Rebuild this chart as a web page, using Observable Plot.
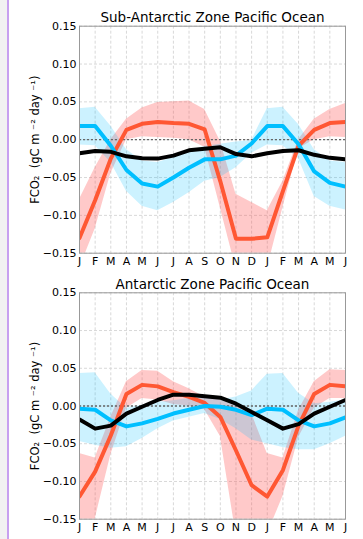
<!DOCTYPE html>
<html><head><meta charset="utf-8">
<script src="https://cdn.jsdelivr.net/npm/d3@7"></script>
<script src="https://cdn.jsdelivr.net/npm/@observablehq/plot@0.6"></script>
<style>
html,body{margin:0;padding:0;background:#f2f2f2;width:363px;height:539px;overflow:hidden;}
#page{position:absolute;left:7px;top:0;width:354px;height:539px;background:#fff;border-left:2px solid #c8a0f0;}
.panel{position:absolute;left:0;}
svg text{font-family:"DejaVu Sans",sans-serif;}
</style></head><body>
<div id="page"></div>
<div id="p1" class="panel" style="top:0px"></div>
<div id="p2" class="panel" style="top:270px"></div>
<script>
const months = ["J","F","M","A","M","J","J","A","S","O","N","D","J","F","M","A","M","J"];
const yTicks = [-0.15,-0.10,-0.05,0.00,0.05,0.10,0.15];
const yLabel = "FCO\u2082  (gC m \u207B\u00B2 day \u207B\u00B9)";

// Sub-Antarctic Zone Pacific Ocean
const sazTitle = "Sub-Antarctic Zone Pacific Ocean";
const sazRed   = [-0.130,-0.080,-0.025,0.013,0.021,0.0235,0.022,0.021,0.0135,-0.055,-0.131,-0.131,-0.129,-0.068,-0.008,0.013,0.022,0.0235];
const sazRedHi = [-0.079,-0.037,0.000,0.027,0.042,0.049,0.050,0.051,0.040,-0.002,-0.072,-0.083,-0.094,-0.055,0.000,0.027,0.040,0.048];
const sazRedLo = [-0.170,-0.118,-0.045,0.000,0.004,0.003,0.002,0.000,-0.010,-0.090,-0.170,-0.170,-0.170,-0.090,-0.012,0.000,0.004,0.003];
const sazBlue   = [0.018,0.018,-0.008,-0.040,-0.058,-0.062,-0.050,-0.037,-0.026,-0.026,-0.021,-0.005,0.018,0.018,-0.006,-0.042,-0.057,-0.062];
const sazBlueHi = [0.041,0.043,0.018,-0.013,-0.028,-0.030,-0.024,-0.015,-0.009,-0.006,-0.003,-0.001,0.041,0.043,0.020,-0.013,-0.028,-0.030];
const sazBlueLo = [-0.007,-0.008,-0.030,-0.068,-0.088,-0.094,-0.083,-0.070,-0.055,-0.050,-0.037,-0.018,-0.007,-0.008,-0.025,-0.075,-0.088,-0.093];
const sazBlack  = [-0.018,-0.015,-0.016,-0.022,-0.0245,-0.025,-0.021,-0.014,-0.012,-0.010,-0.019,-0.022,-0.018,-0.015,-0.014,-0.020,-0.024,-0.026];

// Antarctic Zone Pacific Ocean
const azTitle = "Antarctic Zone Pacific Ocean";
const azRed   = [-0.120,-0.087,-0.039,0.016,0.028,0.026,0.0185,0.012,0.004,-0.0145,-0.059,-0.105,-0.120,-0.085,-0.026,0.016,0.028,0.026];
const azRedHi = [-0.063,-0.069,-0.015,0.032,0.047,0.046,0.032,0.023,0.012,0.008,0.000,-0.010,-0.063,-0.069,-0.006,0.032,0.048,0.047];
const azRedLo = [-0.170,-0.150,-0.065,-0.003,0.010,0.008,0.002,0.000,-0.005,-0.040,-0.170,-0.170,-0.170,-0.120,-0.042,-0.003,0.010,0.010];
const azBlue   = [-0.0035,-0.005,-0.019,-0.027,-0.023,-0.017,-0.010,-0.005,0.000,-0.001,-0.005,-0.012,-0.0035,-0.005,-0.019,-0.027,-0.023,-0.015];
const azBlueHi = [0.043,0.044,0.016,-0.003,0.001,0.005,0.007,0.010,0.012,0.008,0.012,0.020,0.042,0.043,0.017,0.003,0.005,0.008];
const azBlueLo = [-0.047,-0.052,-0.056,-0.054,-0.043,-0.030,-0.020,-0.015,-0.010,-0.018,-0.030,-0.045,-0.050,-0.055,-0.058,-0.058,-0.050,-0.040];
const azBlack  = [-0.018,-0.030,-0.026,-0.010,-0.001,0.008,0.015,0.015,0.013,0.011,0.003,-0.008,-0.019,-0.030,-0.024,-0.010,-0.001,0.008];

function panel(title, red, redLo, redHi, blue, blueLo, blueHi, black, height, marginTop, marginBottom) {
  const data = months.map((m, i) => ({i, red: red[i], redLo: redLo[i], redHi: redHi[i],
    blue: blue[i], blueLo: blueLo[i], blueHi: blueHi[i], black: black[i]}));
  return Plot.plot({
    width: 363, height, marginLeft: 79, marginRight: 18, marginTop, marginBottom,
    style: {fontFamily: "DejaVu Sans", fontSize: "11px", background: "transparent", color: "#000", overflow: "visible"},
    x: {domain: [0, 17], ticks: d3.range(18), tickFormat: i => months[i], tickSize: 0, tickPadding: 4, label: null},
    y: {domain: [-0.15, 0.15], ticks: yTicks, tickFormat: d3.format(".2f"), tickSize: 0, tickPadding: 3, label: null},
    marks: [
      Plot.gridX(d3.range(18), {stroke: "#d8d8d8", strokeOpacity: 1, strokeDasharray: "3,2"}),
      Plot.gridY(yTicks, {stroke: "#d8d8d8", strokeOpacity: 1, strokeDasharray: "3,2"}),
      Plot.areaY(data, {x: "i", y1: "redLo", y2: "redHi", fill: "#ff4d4d", fillOpacity: 0.3, clip: true}),
      Plot.areaY(data, {x: "i", y1: "blueLo", y2: "blueHi", fill: "#00bfff", fillOpacity: 0.2, clip: true}),
      Plot.ruleY([0], {stroke: "#666", strokeDasharray: "2,2", strokeWidth: 1.3}),
      Plot.lineY(data, {x: "i", y: "red", stroke: "#ff5733", strokeWidth: 4, clip: true}),
      Plot.lineY(data, {x: "i", y: "blue", stroke: "#00bfff", strokeWidth: 4, clip: true}),
      Plot.lineY(data, {x: "i", y: "black", stroke: "#000", strokeWidth: 4, clip: true}),
      Plot.frame({stroke: "#999"}),
      Plot.text([title], {frameAnchor: "top", dy: -4, lineAnchor: "bottom", fontSize: 13.5, fontWeight: "normal"}),
      Plot.text([yLabel], {frameAnchor: "left", dx: -44, rotate: -90, textAnchor: "middle", fontSize: 11.5})
    ]
  });
}

document.getElementById("p1").append(panel(sazTitle, sazRed, sazRedLo, sazRedHi, sazBlue, sazBlueLo, sazBlueHi, sazBlack, 270, 25.7, 17.3));
document.getElementById("p2").append(panel(azTitle, azRed, azRedLo, azRedHi, azBlue, azBlueLo, azBlueHi, azBlack, 269, 22.3, 20.3));
</script>
</body></html>
